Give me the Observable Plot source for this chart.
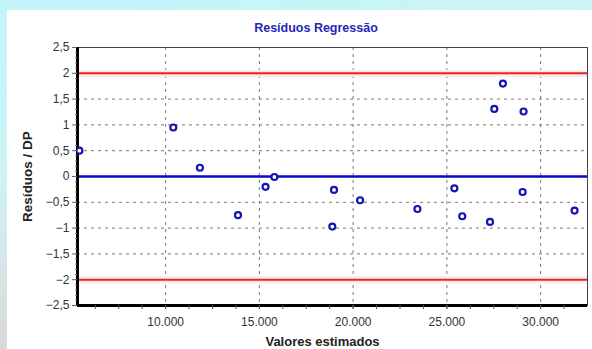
<!DOCTYPE html>
<html>
<head>
<meta charset="utf-8">
<script src="https://cdn.jsdelivr.net/npm/d3@7"></script>
<script src="https://cdn.jsdelivr.net/npm/@observablehq/plot@0.6"></script>
<style>
  html, body { margin: 0; padding: 0; }
  body { width: 592px; height: 349px; overflow: hidden; position: relative;
         background: linear-gradient(165deg, #c2f5f9 0%, #cdf3f6 35%, #d9e3e4 55%, #d5d5d5 75%); }
  #card { position: absolute; left: 7px; top: 10px; right: 0; bottom: 0; background: #fff; }
  #title { position: absolute; top: 21px; left: 196px; width: 240px; text-align: center;
           font-family: "Liberation Sans", Arial, sans-serif; font-weight: bold; font-size: 12.5px; color: #2626b8; }
  #chart { position: absolute; left: 0; top: 38px; }
</style>
</head>
<body>
<div id="card"></div>
<div id="title">Resíduos Regressão</div>
<div id="chart"></div>
<script>
// Estimated values (x) and standardized residuals (y)
const estimated = [5400, 10410, 11830, 13860, 15330, 15800, 18980, 18890, 20370, 23430,
                   25400, 25820, 27300, 27530, 27990, 29090, 29040, 31810];
const residuals = [0.50, 0.95, 0.17, -0.75, -0.20, -0.01, -0.26, -0.97, -0.46, -0.63,
                   -0.23, -0.77, -0.88, 1.31, 1.80, 1.26, -0.30, -0.66];
const xTicks = [10000, 15000, 20000, 25000, 30000];
const xMinorTicks = d3.range(6250, 32500, 1250);
const yTicks = [-2.5, -2, -1.5, -1, -0.5, 0, 0.5, 1, 1.5, 2, 2.5];
const yMinorTicks = d3.range(-25, 26).map(d => d / 10);
const yGrid = [-1.5, -1, -0.5, 0.5, 1, 1.5];
const limits = [2, -2];
const zeroLine = [0];
const xDomain = [5300, 32500];
const yDomain = [-2.5, 2.5];

const locale = d3.formatLocale({decimal: ",", thousands: ".", grouping: [3], currency: ["R$", ""]});
const fx = locale.format(",");
const fy = d => locale.format("~g")(d);

const data = estimated.map((x, i) => ({x, y: residuals[i]}));

const plot = Plot.plot({
  width: 592,
  height: 311,
  marginLeft: 77,
  marginRight: 5,
  marginTop: 9,
  marginBottom: 44,
  style: {background: "transparent", fontFamily: "'Liberation Sans', Arial, sans-serif", fontSize: "11px", color: "#333"},
  x: {domain: xDomain, label: null},
  y: {domain: yDomain, label: null},
  marks: [
    Plot.gridX(xTicks, {stroke: "#777", strokeOpacity: 1, strokeDasharray: "3,4", strokeWidth: 1}),
    Plot.gridY(yGrid, {stroke: "#777", strokeOpacity: 1, strokeDasharray: "3,4", strokeWidth: 1}),
    Plot.ruleY(limits, {stroke: "#fde9e6", strokeWidth: 7}),
    Plot.ruleY(limits, {stroke: "#e0282a", strokeWidth: 2}),
    Plot.ruleY(zeroLine, {stroke: "#0a0ac4", strokeWidth: 2.5}),
    Plot.frame({stroke: "#444", strokeWidth: 1}),
    Plot.ruleX([xDomain[0]], {stroke: "#000", strokeWidth: 3}),
    Plot.ruleY([yDomain[0]], {stroke: "#000", strokeWidth: 3}),
    Plot.axisX(xMinorTicks, {tickSize: 4, tickFormat: () => "", stroke: "#555", tickPadding: 0}),
    Plot.axisX(xTicks, {tickSize: 4, tickFormat: fx, fontSize: 12, tickPadding: 8, fill: "#333", stroke: "#555"}),
    Plot.axisY(yMinorTicks, {tickSize: 2, tickFormat: () => "", stroke: "#777", tickPadding: 0}),
    Plot.axisY(yTicks, {tickSize: 5, tickFormat: fy, fontSize: 12, tickPadding: 3, fill: "#333", stroke: "#666"}),
    Plot.text(["Valores estimados"], {frameAnchor: "bottom", dy: 40, dx: -10, fontWeight: "bold", fontSize: 13, fill: "#222", fontFamily: "'Liberation Sans', Arial, sans-serif"}),
    Plot.text(["Resíduos / DP"], {frameAnchor: "left", dx: -50, rotate: -90, textAnchor: "middle", fontWeight: "bold", fontSize: 13.5, fill: "#222", fontFamily: "'Liberation Sans', Arial, sans-serif"}),
    Plot.dot(data, {x: "x", y: "y", r: 3, stroke: "#1414b4", strokeWidth: 2.2, fill: "white", clip: true})
  ]
});
document.getElementById("chart").appendChild(plot);
</script>
</body>
</html>
